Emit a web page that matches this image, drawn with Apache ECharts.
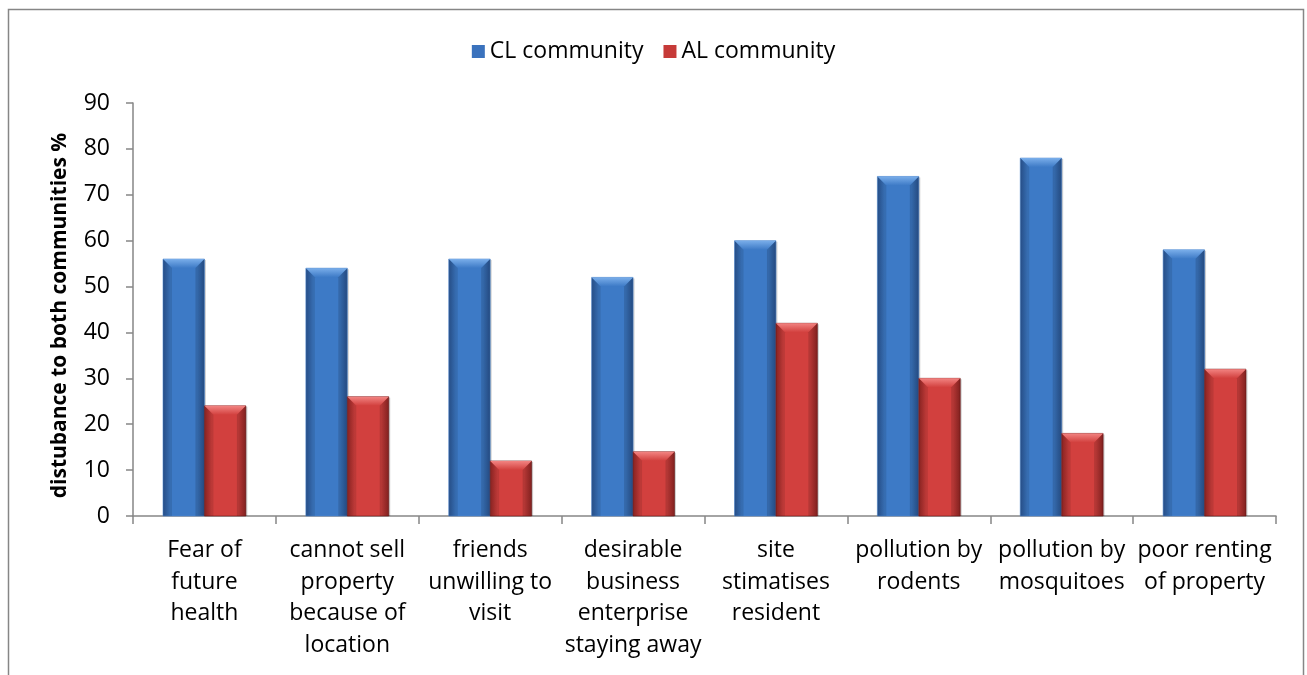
<!DOCTYPE html>
<html><head><meta charset="utf-8">
<script src="https://cdn.jsdelivr.net/npm/echarts@6/dist/echarts.min.js"></script>
<style>html,body{margin:0;padding:0;background:#fff}#c{width:1307px;height:675px}</style>
</head><body><div id="c"></div>
<script>
const categories = ["Fear of\nfuture\nhealth","cannot sell\nproperty\nbecause of\nlocation","friends\nunwilling to\nvisit","desirable\nbusiness\nenterprise\nstaying away","site\nstimatises\nresident","pollution by\nrodents","pollution by\nmosquitoes","poor renting\nof property"];
const clValues = [56,54,56,52,60,74,78,58];
const alValues = [24,26,12,14,42,30,18,32];
const seriesNames = ["CL community","AL community"];
const yAxisTitle = "distubance to both communities %";

const font = "'Open Sans', sans-serif";
const palettes = [
  {edge:'#2a5594', mid:'#3d7ac6', light:'#7aaeea', border:'#4f88d0'},
  {edge:'#952624', mid:'#d2403e', light:'#f28482', border:'#6e1a19'}
];
function grad(p){
  return new echarts.graphic.LinearGradient(0,0,1,0,[
    {offset:0,color:p.edge},{offset:0.18,color:p.mid},{offset:0.5,color:p.mid},{offset:0.82,color:p.mid},{offset:1,color:p.edge}]);
}
function makeRender(si){
  return function(params, api){
    const idx = api.value(0), val = api.value(1);
    const top = api.coord([idx, val]);
    const base = api.coord([idx, 0]);
    const band = api.size([1,0])[0];
    const w = band*0.29;
    const x0 = si===0 ? top[0]-w : top[0];
    const x1 = x0 + w;
    const y0 = top[1], y1 = base[1];
    const p = palettes[si];
    const b = Math.min(9, (y1-y0)/2);
    return {type:'group', children:[
      {type:'rect', shape:{x:x0+1.5,y:y0+1,width:w,height:y1-y0-1}, style:{fill:'rgba(0,0,0,0.18)'}},
      {type:'rect', shape:{x:x0,y:y0,width:w,height:y1-y0}, style:{fill:grad(p), stroke:p.border, lineWidth:0.6}},
      {type:'polygon', shape:{points:[[x0,y0],[x1,y0],[x1-b,y0+b],[x0+b,y0+b]]},
        style:{fill:new echarts.graphic.LinearGradient(0,0,0,1,[{offset:0,color:p.light},{offset:1,color:p.mid}])}},
      {type:'polygon', shape:{points:[[x0,y0],[x0+b,y0+b],[x0+b,y1],[x0,y1]]}, style:{fill:'rgba(0,0,0,0.10)'}},
      {type:'polygon', shape:{points:[[x1,y0],[x1-b,y0+b],[x1-b,y1],[x1,y1]]}, style:{fill:'rgba(0,0,0,0.14)'}}
    ]};
  };
}
const chart = echarts.init(document.getElementById('c'));
chart.setOption({
  animation:false,
  backgroundColor:'#fff',
  graphic:[{type:'rect',shape:{x:8.5,y:9.5,width:1295,height:700},style:{fill:'none',stroke:'#868686',lineWidth:1.5},silent:true,z:-1}],
  legend:{top:35,left:'center',itemWidth:13,itemHeight:13,itemGap:20,
    textStyle:{fontFamily:font,fontSize:23,color:'#000'},
    data:[{name:seriesNames[0],icon:'rect',itemStyle:{color:'#3a72bd'}},{name:seriesNames[1],icon:'rect',itemStyle:{color:'#c63a38'}}]},
  grid:{left:133,right:31,top:103,bottom:159,containLabel:false},
  xAxis:{type:'category',data:categories,
    axisLine:{lineStyle:{color:'#868686',width:1.5}},
    axisTick:{show:true,length:8,lineStyle:{color:'#868686',width:1.5}},
    axisLabel:{fontFamily:font,fontSize:23,color:'#000',lineHeight:31.5,margin:19,interval:0}},
  yAxis:{type:'value',min:0,max:90,interval:10,
    name:yAxisTitle,nameLocation:'middle',nameGap:62,
    nameTextStyle:{fontFamily:font,fontSize:21,fontWeight:'bold',color:'#000',padding:[0,12,0,0]},
    splitLine:{show:false},
    axisLine:{show:true,lineStyle:{color:'#868686',width:1.5}},
    axisTick:{show:true,length:7,lineStyle:{color:'#868686',width:1.5}},
    axisLabel:{fontFamily:font,fontSize:23,color:'#000',margin:23}},
  series:[
    {name:seriesNames[0],type:'custom',data:clValues.map((v,i)=>[i,v]),renderItem:makeRender(0),itemStyle:{color:'#3a72bd'},encode:{x:0,y:1}},
    {name:seriesNames[1],type:'custom',data:alValues.map((v,i)=>[i,v]),renderItem:makeRender(1),itemStyle:{color:'#c63a38'},encode:{x:0,y:1}}
  ]
});
</script></body></html>
